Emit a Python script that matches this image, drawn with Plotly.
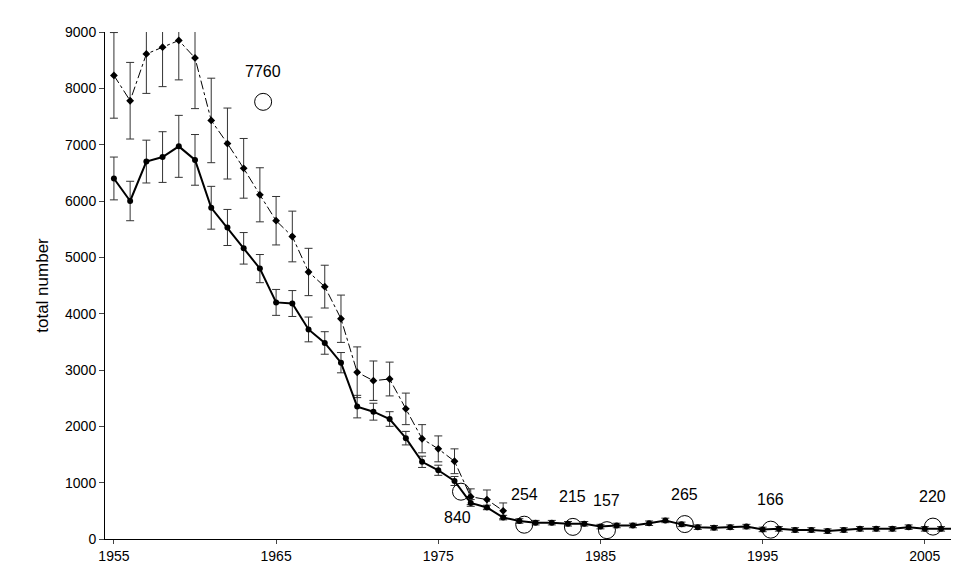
import plotly.graph_objects as go

years = list(range(1955, 2008))
total = [6400, 6000, 6700, 6780, 6970, 6730, 5880, 5530, 5160, 4800,
         4200, 4180, 3720, 3480, 3130, 2350, 2260, 2130, 1790, 1370,
         1220, 1030, 640, 560, 380, 320, 290, 290, 270, 270,
         220, 240, 240, 280, 330, 260, 210, 200, 210, 220,
         170, 180, 160, 160, 140, 160, 180, 180, 180, 210,
         180, 180, 180]
total_err = [380, 350, 380, 450, 550, 450, 380, 320, 280, 250,
             230, 230, 220, 200, 180, 200, 150, 130, 120, 100,
             90, 80, 60] + [40] * 30

years2 = list(range(1955, 1980))
total2 = [8230, 7780, 8610, 8730, 8850, 8540, 7430, 7020, 6580, 6110,
          5650, 5370, 4740, 4480, 3910, 2960, 2810, 2840, 2310, 1780,
          1600, 1380, 750, 700, 500]
total2_err = [760, 680, 700, 700, 700, 900, 750, 630, 530, 480,
              430, 450, 420, 380, 420, 450, 350, 300, 280, 250,
              230, 220, 140, 170, 140]

circ_x = [1964.2, 1976.4, 1980.3, 1983.3, 1985.4, 1990.2, 1995.5, 2005.5]
circ_y = [7760, 840, 254, 215, 157, 265, 166, 220]
circ_lbl = ["7760", "840", "254", "215", "157", "265", "166", "220"]

fig = go.Figure()
fig.add_trace(go.Scatter(
    x=years2, y=total2, mode="lines+markers",
    line=dict(color="black", width=1, dash="dashdot"),
    marker=dict(symbol="diamond", size=6, color="black"),
    error_y=dict(array=total2_err, color="#333", thickness=1, width=4)))
fig.add_trace(go.Scatter(
    x=years, y=total, mode="lines+markers",
    line=dict(color="black", width=2),
    marker=dict(symbol="circle", size=6, color="black"),
    error_y=dict(array=total_err, color="#333", thickness=1, width=4)))
fig.add_trace(go.Scatter(
    x=circ_x, y=circ_y, mode="markers",
    marker=dict(symbol="circle-open", size=17, color="black", line=dict(width=1))))

for x, y, t in zip(circ_x, circ_y, circ_lbl):
    if t == "840":
        fig.add_annotation(x=x, y=y, text=t, showarrow=False, xshift=-3, yshift=-26)
    else:
        fig.add_annotation(x=x, y=y, text=t, showarrow=False, yshift=30)
fig.update_annotations(font=dict(size=16, color="black"))

fig.update_layout(
    width=959, height=567, showlegend=False,
    plot_bgcolor="white", paper_bgcolor="white",
    margin=dict(l=97, r=0, t=24, b=36),
    font=dict(family="Liberation Sans, Arial", size=14, color="black"),
    xaxis=dict(range=[1954.45, 2007.6], tickvals=[1955, 1965, 1975, 1985, 1995, 2005],
               ticks="outside", ticklen=4, showline=True, linecolor="black",
               showgrid=False, zeroline=False),
    yaxis=dict(range=[0, 9000], dtick=1000, ticks="outside", ticklen=5,
               showline=True, linecolor="black", showgrid=False, zeroline=False,
               title=dict(text="total number", standoff=12)),
)
fig.write_html("out.html")
